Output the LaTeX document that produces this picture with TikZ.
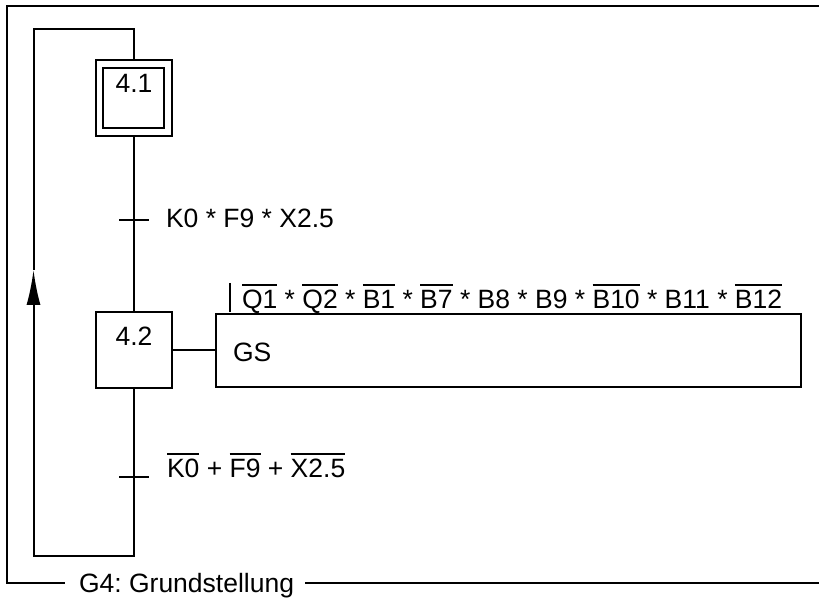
\documentclass[tikz,border=0pt]{standalone}
\usepackage{fontspec}
\setmainfont{Liberation Sans}
\usepackage{tikz}
\usetikzlibrary{arrows.meta}
\frenchspacing

\newsavebox{\negbox}
\newcommand{\negbar}[1]{\sbox{\negbox}{#1}\rlap{\raisebox{\dimexpr\ht\negbox+2.4pt\relax}{\rule{\wd\negbox}{0.9pt}}}\usebox{\negbox}}

\begin{document}
\begin{tikzpicture}[x=0.5pt, y=0.5pt, line width=1pt,
    txt/.style={inner sep=0pt, font=\fontsize{13.25}{15}\selectfont},
    stepbox/.style={draw, minimum width=38pt, minimum height=38pt, inner sep=0pt}]

\useasboundingbox (0,0) rectangle (819,608);

% =========================
% Frame of the group
% =========================
\coordinate (fr-ne) at (819,602);
\coordinate (fr-sw) at (7,24.5);
\coordinate (fr-a) at (65,24.5);
\coordinate (fr-b) at (305,24.5);
\coordinate (fr-se) at (819,24.5);
\node[txt, anchor=base west] (frlabel) at (78,15) {G4: Grundstellung};
\draw (fr-ne) -| (fr-sw) -- (fr-a);
\draw (fr-b) -- (fr-se);

% =========================
% Steps
% =========================
\node[stepbox] (s41) at (134,510) {};
\node[draw, minimum width=30.5pt, minimum height=30pt, inner sep=0pt] (s41in) at (133.5,510) {};
\node[txt, anchor=base] (s41lab) at (134,515) {4.1};

\node[stepbox] (s42) at (134,257.5) {};
\node[txt, anchor=base] (s42lab) at (134,262) {4.2};

% Action of step 4.2
\node[draw, minimum width=292.5pt, minimum height=36.5pt, inner sep=0pt] (act) at (508.5,257.5) {};
\node[txt, anchor=base west] (actlab) at (232,246) {GS};
\draw (s42.east) -- (act.west);

% Condition of the action
\coordinate (qbar) at (230,325);
\draw (qbar) -- ++(0,-29);
\node[txt, anchor=base west] (qual) at (241,299)
    {\negbar{Q1} * \negbar{Q2} * \negbar{B1} * \negbar{B7} * B8 * B9 * \negbar{B10} * B11 * \negbar{B12}};

% =========================
% Transitions
% =========================
\coordinate (t1) at (134,388);
\coordinate (t2) at (134,131);
\draw (s41.south) -- (s42.north);
\draw (t1) ++(-15,0) -- ++(30,0);
\draw (t2) ++(-15,0) -- ++(30,0);
\node[txt, anchor=base west] (t1lab) at (165,380) {K0 * F9 * X2.5};
\node[txt, anchor=base west] (t2lab) at (166,130)
    {\negbar{K0} + \negbar{F9} + \negbar{X2.5}};

% Loop back to step 4.1
\coordinate (lp-br) at (134,51.5);
\coordinate (lp-bl) at (33.5,51.5);
\coordinate (lp-tip) at (33.5,338);
\coordinate (lp-tl) at (33.5,579);
\coordinate (lp-tr) at (134,579);
\draw[-{Latex[length=17.5pt, width=7pt]}] (s42.south) -- (lp-br) -- (lp-bl) -- (lp-tip);
\draw (lp-tip) -- (lp-tl) -- (lp-tr) -- (s41.north);

\end{tikzpicture}
\end{document}
